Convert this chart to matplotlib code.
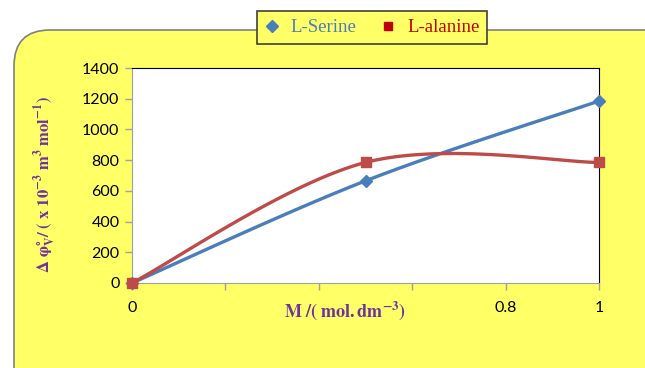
import numpy as np
import matplotlib
matplotlib.use("Agg")
import matplotlib.pyplot as plt
from matplotlib.patches import FancyBboxPatch
from matplotlib.lines import Line2D

# data
conc = [0.0, 0.5, 1.0]
serine = [0, 665, 1185]
alanine = [0, 785, 785]
series_names = ["L-Serine", "L-alanine"]
x_ticks = [0, 0.2, 0.4, 0.6, 0.8, 1.0]
x_tick_labels = ["0", "", "", "", "0.8", "1"]
y_ticks = [0, 200, 400, 600, 800, 1000, 1200, 1400]

YELLOW = "#FFFF66"
PURPLE = "#7030A0"
BLUE = "#4A7EBB"
RED = "#BE4B48"

plt.rcParams["mathtext.fontset"] = "stix"


def excel_smooth(xs, ys, n=60):
    """Bezier smoothing like Excel's 'smoothed line' option."""
    pts = np.column_stack([xs, ys]).astype(float)
    out = []
    for i in range(len(pts) - 1):
        p0 = pts[i - 1] if i > 0 else pts[i]
        p1 = pts[i]
        p2 = pts[i + 1]
        p3 = pts[i + 2] if i + 2 < len(pts) else pts[i + 1]
        c1 = p1 + (p2 - p0) / 6
        c2 = p2 - (p3 - p1) / 6
        t = np.linspace(0, 1, n)[:, None]
        seg = ((1 - t) ** 3 * p1 + 3 * (1 - t) ** 2 * t * c1
               + 3 * (1 - t) * t ** 2 * c2 + t ** 3 * p2)
        out.append(seg if i == 0 else seg[1:])
    out = np.vstack(out)
    return out[:, 0], out[:, 1]


fig = plt.figure(figsize=(6.45, 3.68), dpi=100)

# background panel in pixel coordinates
bg = fig.add_axes([0, 0, 1, 1], zorder=-1)
bg.set_xlim(0, 645)
bg.set_ylim(368, 0)
bg.axis("off")
bg.add_patch(FancyBboxPatch((14, 30), 680, 380,
                            boxstyle="round,pad=0,rounding_size=36",
                            facecolor=YELLOW, edgecolor="#808080", lw=1.2))

ax = fig.add_axes([132 / 645, 1 - 283 / 368, 467 / 645, 215 / 368])
ax.set_facecolor("white")

sx, sy = excel_smooth(conc, serine)
ax.plot(sx, sy, color=BLUE, lw=2.4, zorder=3)
ax.plot(conc, serine, ls="none", marker="D", ms=6.5, color=BLUE, zorder=4,
        clip_on=False)

axx, axy = excel_smooth(conc, alanine)
ax.plot(axx, axy, color=RED, lw=2.4, zorder=3)
ax.plot(conc, alanine, ls="none", marker="s", ms=6.5, color=RED, zorder=5,
        clip_on=False)

ax.set_xlim(0, 1)
ax.set_ylim(0, 1400)
ax.set_xticks(x_ticks)
ax.set_xticklabels(x_tick_labels)
ax.set_yticks(y_ticks)
ax.tick_params(axis="both", colors="#A0A0A0", labelcolor="black",
               labelsize=11.5, length=5, width=1)
ax.tick_params(axis="x", pad=8)
ax.tick_params(axis="y", pad=4)
for lab in ax.get_xticklabels() + ax.get_yticklabels():
    lab.set_fontfamily("Lato")

ax.spines["left"].set_color("#A0A0A0")
ax.spines["bottom"].set_color("#A0A0A0")
ax.spines["top"].set_color("black")
ax.spines["right"].set_color("black")

fig.text(345 / 645, 1 - 311 / 368, r"$\mathbf{M\ /(\ mol{.}dm^{-3})}$",
         color=PURPLE, fontsize=13, ha="center", va="center")
fig.text(45 / 645, 1 - 185 / 368,
         r"$\mathbf{\Delta\ \varphi^{\circ}_{V}/\ (\ x\ 10^{-3}\ m^{3}\ mol^{-1})}$",
         color=PURPLE, fontsize=12, ha="center", va="center",
         rotation=90)

handles = [
    Line2D([], [], ls="none", marker="D", ms=6, color=BLUE),
    Line2D([], [], ls="none", marker="s", ms=6, color="#C00000"),
]
leg = fig.legend(handles, series_names, loc="center", ncol=2,
                 bbox_to_anchor=(372 / 645, 1 - 27.5 / 368),
                 frameon=True, fancybox=False, handlelength=0.8,
                 handletextpad=0.6, columnspacing=1.3, borderpad=0.4,
                 borderaxespad=0, prop={"family": "Liberation Serif", "size": 13.5})
leg.get_frame().set_facecolor(YELLOW)
leg.get_frame().set_edgecolor("#404040")
leg.get_frame().set_linewidth(1.2)
leg.get_frame().set_alpha(1)
leg.get_texts()[0].set_color(BLUE)
leg.get_texts()[1].set_color("#C00000")

fig.savefig("out.png", dpi=100)
